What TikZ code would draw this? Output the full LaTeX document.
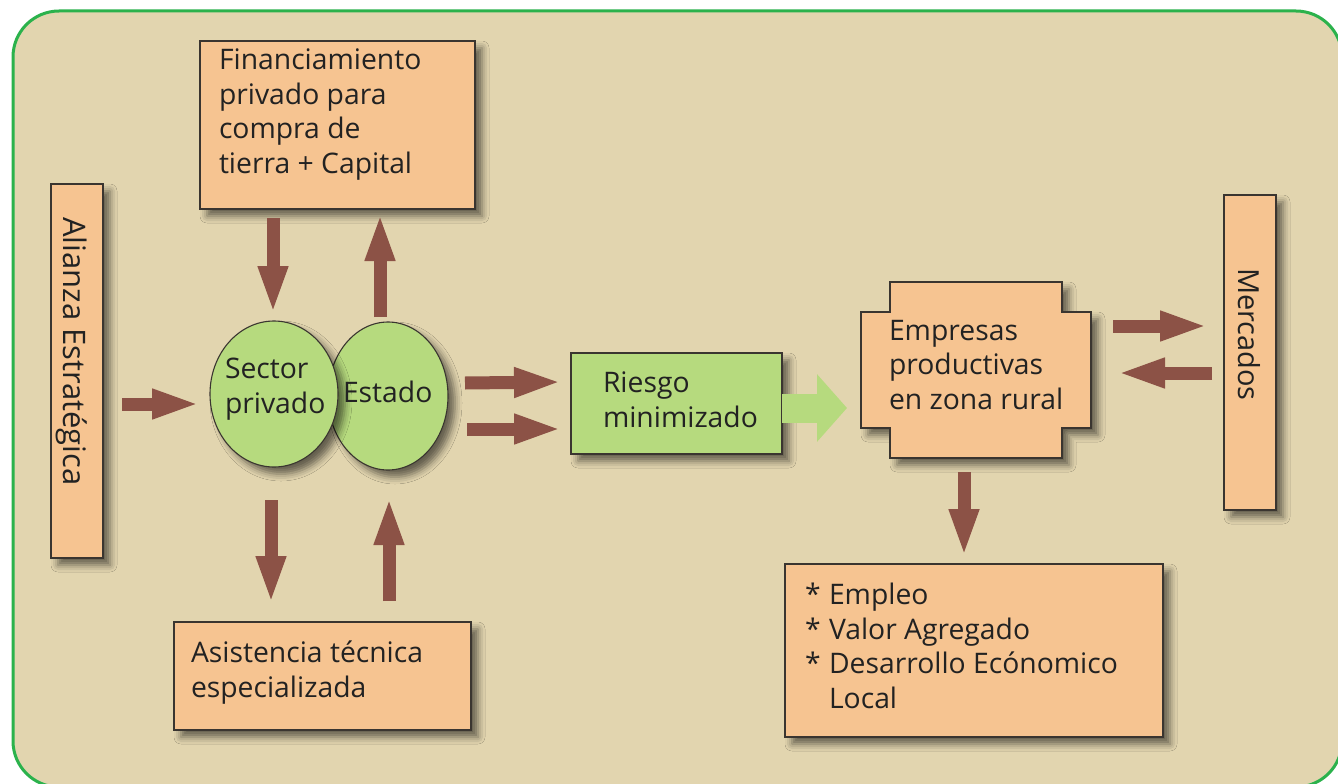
\documentclass[tikz,border=0pt]{standalone}
\usepackage{fontspec}
\setmainfont{Open Sans}
\usetikzlibrary{arrows.meta,shadows.blur,calc,shapes.geometric}
\definecolor{bg}{HTML}{E2D5AF}
\definecolor{frame}{HTML}{2BB24C}
\definecolor{orangebox}{HTML}{F6C491}
\definecolor{greenbox}{HTML}{B6DA7E}
\definecolor{brownarrow}{HTML}{8C5246}
\definecolor{edge}{HTML}{3A3530}
\definecolor{ink}{HTML}{222222}
\tikzset{
  shade/.style={blur shadow={shadow xshift=7pt, shadow yshift=-7pt, shadow blur radius=7pt, shadow opacity=55}},
  obox/.style={draw=edge, line width=1.1pt, fill=orangebox, inner sep=0pt, outer sep=0pt, shade},
  gbox/.style={draw=edge, line width=1.1pt, fill=greenbox, inner sep=0pt, outer sep=0pt, shade},
  gell/.style={ellipse, draw=edge, line width=1.1pt, fill=greenbox, inner sep=0pt, outer sep=0pt, shade},
  txt/.style={inner sep=0pt, outer sep=0pt, align=left, text=ink, font=\fontsize{28.3}{34.5}\selectfont},
  barrow/.style={draw=brownarrow, line width=13pt, -{Triangle[width=27pt,length=48pt]}},
  garrow/.style={draw=greenbox, line width=29pt, -{Triangle[width=66pt,length=30pt]}},
}
\begin{document}
\begin{tikzpicture}[x=1pt,y=1pt]
\useasboundingbox (0,0) rectangle (1338,-784);
\clip (0,0) rectangle (1338,-784);
\fill[white] (0,0) rectangle (1338,-784);
\draw[draw=frame, line width=3pt, fill=bg, rounded corners=46pt] (13,-11) rectangle (1342,-787);

% boxes
\node[obox, minimum width=52, minimum height=374] (all) at (77,-371) {};
\node[obox, minimum width=275, minimum height=168] (fin) at (337.5,-125) {};
\node[gell, minimum width=120, minimum height=148] (est) at (388,-396) {};
\node[gell, minimum width=128, minimum height=146] (sp) at (274,-394) {};
\node[obox, minimum width=297, minimum height=108] (asis) at (322.5,-676) {};
\node[gbox, minimum width=211, minimum height=101] (ries) at (676.5,-403.5) {};
\node[inner sep=0pt, outer sep=0pt, minimum width=230, minimum height=176] (emp) at (976,-370) {};
\path[obox] ($(emp.north west)+(29,0)$) -- ($(emp.north east)+(-29,0)$) -- ($(emp.north east)+(-29,-30)$)
  -- ($(emp.north east)+(0,-30)$) -- ($(emp.south east)+(0,30)$) -- ($(emp.south east)+(-29,30)$)
  -- ($(emp.south east)+(-29,0)$) -- ($(emp.south west)+(29,0)$) -- ($(emp.south west)+(29,30)$)
  -- ($(emp.south west)+(0,30)$) -- ($(emp.north west)+(0,-30)$) -- ($(emp.north west)+(29,-30)$) -- cycle;
\node[obox, minimum width=52, minimum height=315] (merc) at (1250,-352.5) {};
\node[obox, minimum width=378, minimum height=173] (res) at (974,-650.5) {};

% texts (anchor = baseline of the last line)
\node[txt, font=\fontsize{31}{36}\selectfont, rotate=-90, anchor=base west] (allt) at (63,-217) {Alianza Estratégica};
\node[txt, anchor=base west] (fint) at (219,-173) {Financiamiento\\privado para\\compra de\\tierra + Capital};
\node[txt, anchor=base west] (spt) at (225,-413) {Sector\\privado};
\node[txt, anchor=base west] (estt) at (343,-402) {Estado};
\node[txt, anchor=base west] (asist) at (191,-697) {Asistencia técnica\\especializada};
\node[txt, anchor=base west] (riest) at (603,-427) {Riesgo\\minimizado};
\node[txt, anchor=base west] (empt) at (889,-409) {Empresas\\productivas\\en zona rural};
\node[txt, font=\fontsize{29}{34}\selectfont, rotate=-90, anchor=base west] (merct) at (1238,-268) {Mercados};
\node[txt, anchor=base west] (rest) at (805,-708) {\makebox[24pt][l]{*}Empleo\\\makebox[24pt][l]{*}Valor Agregado\\\makebox[24pt][l]{*}Desarrollo Ecónomico\\\hspace*{24pt}Local};

% arrows
\draw[barrow] ([xshift=19,yshift=-33]all.east) -- ([xshift=-10,yshift=-10]sp.west);
\draw[barrow] ([xshift=-64.5,yshift=-9]fin.south) -- ([xshift=-1,yshift=7]sp.north);
\draw[barrow] ([xshift=-8,yshift=5]est.north) -- ([xshift=42.5,yshift=-4]fin.south);
\draw[barrow] ([xshift=-3,yshift=-33]sp.south) -- ([xshift=-51.5,yshift=18]asis.north);
\draw[barrow] ([xshift=66.5,yshift=21]asis.north) -- ([xshift=1,yshift=-27]est.south);
\draw[barrow] ([xshift=17,yshift=13]est.east) -- ([xshift=-9,yshift=21.5]ries.west);
\draw[barrow] ([xshift=19,yshift=-33]est.east) -- ([xshift=-9,yshift=-25.5]ries.west);
\draw[barrow] ([xshift=22,yshift=44]emp.east) -- ([xshift=-16,yshift=26.5]merc.west);
\draw[barrow] ([xshift=-12,yshift=-20.5]merc.west) -- ([xshift=26,yshift=-3]emp.east);
\draw[barrow] ([xshift=-12,yshift=-14]emp.south) -- ([xshift=-10,yshift=7]res.north);
\draw[garrow] ([yshift=-4.5]ries.east) -- ([xshift=-14,yshift=-38]emp.west);
\end{tikzpicture}
\end{document}
